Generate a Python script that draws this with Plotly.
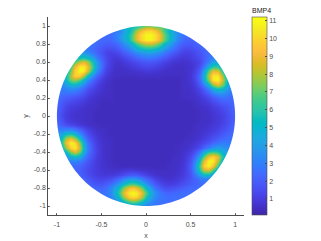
import numpy as np
import plotly.graph_objects as go

x_values = [round(-1 + 0.05 * i, 2) for i in range(41)]
y_values = [round(1 - 0.05 * i, 2) for i in range(41)]
# each row: first column index, then the values read across the disc
bmp4_rows = [
 (18,[5.5,6.5,7.2,7.3,6.8]),
 (13,[2.6,3.1,4,5,6.2,8,9.3,10,10.2,9.5,8.2,6.5,5.2,4.2,3.2]),
 (11,[2.4,2.5,2.9,3.6,4.4,5.6,7,8.8,10.2,10.9,10.9,10.4,9.1,7.3,5.7,4.6,3.4,2.8,2.4]),
 (9,[2.5,2.4,2.3,2.4,2.7,3.4,4.3,5.5,7,8.8,10.1,10.8,10.8,10.3,9,7.2,5.6,4.4,3.2,2.6,2.2,2.2,2.3]),
 (7,[2.7,2.6,2.4,2.2,2,2,2.2,2.7,3.4,4.2,5.2,6.5,7.6,8.2,8.3,7.8,6.8,5.4,4.3,3.4,2.6,2.1,1.9,1.9,2.1,2.3,2.5]),
 (6,[3,2.8,2.4,2.1,1.8,1.5,1.5,1.7,2,2.6,3.2,3.9,4.7,5.3,5.7,5.7,5.4,4.8,4,3.2,2.6,2,1.6,1.4,1.5,1.7,2,2.3,2.5]),
 (5,[4,3.8,3.4,2.8,2.2,1.7,1.3,1.1,1.2,1.5,1.9,2.3,2.8,3.3,3.7,3.9,3.9,3.7,3.3,2.8,2.3,1.9,1.5,1.2,1.1,1.2,1.4,1.7,2.1,2.4,2.6]),
 (4,[5,5.5,5.8,5.2,4,2.9,2,1.4,1,.85,1,1.3,1.6,1.9,2.2,2.5,2.7,2.7,2.5,2.2,1.9,1.5,1.2,1,.85,.85,1,1.2,1.5,2,2.7,3.1,3.1]),
 (3,[5,6.8,8.2,8.8,7.8,5.6,3.8,2.4,1.5,1,.75,.7,.9,1.1,1.3,1.5,1.7,1.8,1.8,1.7,1.5,1.2,1,.8,.7,.65,.7,.8,1,1.3,2,3,4.2,4.4,3.6]),
 (2,[4.5,6.5,9,10.7,10.7,9,6.3,4,2.4,1.4,.9,.65,.6,.65,.8,.95,1.05,1.2,1.3,1.3,1.2,1,.85,.7,.6,.55,.55,.6,.7,1,1.5,2.7,4.8,6.2,6.2,4.8,3.5]),
 (2,[4.8,7.2,9.8,11,10.8,8.5,5.5,3.4,2,1.2,.8,.6,.55,.55,.6,.7,.75,.8,.9,.9,.8,.7,.6,.55,.55,.55,.55,.6,.75,1.1,2,4,7,8.8,8.6,6.3,4.2]),
 (1,[3.4,5.3,8,9.9,9.7,7.8,5.3,3.4,2.2,1.4,.9,.65,.55,.5,.5,.5,.5,.5,.55,.55,.55,.55,.55,.5,.5,.5,.5,.5,.6,.8,1.3,2.4,4.8,8.2,10.5,10.6,8.2,5.2,3.5]),
 (1,[3.5,5.2,7.3,7.8,6.8,5,3.4,2.3,1.6,1,.7,.55]+[.4]*15+[.5,.6,.8,1.2,2.3,4.5,7.6,10.5,11,8.8,5.6,3.6]),
 (0,[3,3.3,4,4.9,5,4.2,3.2,2.3,1.6,1.1,.8,.6,.5]+[.4]*15+[.5,.55,.7,1,1.8,3,5,7.5,8.8,7.5,5.2,3.5,2.8]),
 (0,[2.9,3,3.2,3.4,3.3,2.8,2.2,1.6,1.2,.9,.7,.55,.5]+[.4]*15+[.5,.55,.65,.85,1.3,2,3.1,4.5,5.6,5.2,4.1,3.1,2.7]),
 (0,[2.7,2.6,2.5,2.4,2.3,2,1.6,1.2,.9,.7,.6,.5,.5]+[.4]*15+[.5,.5,.6,.7,1,1.4,2,2.8,3.4,3.5,3.1,2.7,2.5]),
 (0,[2.5,2.2,2,1.8,1.6,1.4,1.2,.9,.7,.6,.5,.5,.5]+[.4]*15+[.5,.5,.55,.6,.8,1,1.4,1.8,2.2,2.5,2.5,2.4,2.4]),
 (0,[2.3,1.9,1.5,1.3,1.2,1,.85,.7,.6,.55]+[.4]*21+[.55,.65,.8,1,1.3,1.6,1.9,2,2.2,2.4]),
 (0,[2.2,1.7,1.3,1,.9,.8,.7,.6,.55,.5]+[.4]*21+[.5,.55,.65,.75,1,1.2,1.4,1.7,2,2.3]),
 (0,[2.1,1.5,1.1,.85,.75,.7,.6,.55,.5]+[.4]*23+[.5,.55,.65,.8,1,1.2,1.5,1.9,2.3]),
 (0,[2.1,1.4,1,.8,.7,.65,.6,.55,.5]+[.4]*23+[.5,.55,.6,.75,.9,1.1,1.4,1.8,2.2]),
 (0,[2.2,1.6,1.1,.9,.8,.7,.6,.55,.5]+[.4]*23+[.5,.55,.6,.75,.9,1.1,1.4,1.8,2.2]),
 (0,[2.4,2,1.6,1.3,1.1,.9,.75,.6,.55,.5]+[.4]*21+[.5,.55,.6,.7,.85,1,1.2,1.5,1.9,2.3]),
 (0,[3,3,3.2,3.3,2.9,2.2,1.6,1.1,.8,.6,.55,.5]+[.4]*19+[.5,.6,.7,.8,1,1.2,1.5,1.8,2.1,2.4]),
 (0,[4,4.2,5.3,5.8,4.9,3.4,2.3,1.5,1,.75,.6,.5]+[.4]*18+[.5,.55,.65,.8,1,1.25,1.5,1.8,2.1,2.4,2.5]),
 (0,[4.5,5.5,8,9.2,8,5.5,3.4,2,1.3,.9,.65,.55,.5]+[.4]*16+[.5,.55,.65,.8,1,1.3,1.6,2,2.3,2.5,2.6,2.6]),
 (0,[4.5,6,9,10.8,10.3,7.5,4.5,2.6,1.5,1,.7,.55,.5]+[.4]*15+[.5,.55,.65,.8,1.05,1.4,1.8,2.3,2.7,2.9,2.9,2.8,2.7]),
 (0,[4,5,7.5,10,10.7,8.3,5,2.9,1.7,1.1,.75,.55,.5]+[.4]*14+[.5,.55,.6,.8,1.05,1.5,2.2,3,3.6,4,3.9,3.5,3,2.8]),
 (1,[3.8,5.2,7.5,8.7,7.2,4.6,2.7,1.7,1.1,.75,.55,.5]+[.4]*14+[.5,.6,.75,1.05,1.6,2.8,4.5,6,6.5,6,5,4,3.2]),
 (1,[3,3.6,4.8,5.2,4.6,3.2,2.2,1.5,1,.75,.6,.5]+[.4]*13+[.5,.55,.65,.9,1.4,2.4,4.2,7,9.3,10,8.8,6.2,4.3,3.2]),
 (2,[2.8,3.1,3.1,2.9,2.4,1.8,1.3,.95,.75,.6,.5]+[.4]*13+[.5,.55,.7,1,1.7,3,5.5,8.8,10.9,10.8,8.2,5.4,3.7]),
 (2,[2.6,2.5,2.4,2.2,1.9,1.5,1.2,.9,.75,.6,.55,.5]+[.4]*11+[.5,.55,.6,.75,1.1,1.9,3.6,6.6,9.8,10.8,9.5,6.5,4.2,3.2]),
 (3,[2.5,2.3,2,1.7,1.4,1.15,.95,.8,.7,.65,.65,.65,.75,.85,.85,.75,.65,.6,.55,.5,.5,.5,.5,.55,.65,.8,1.15,1.9,3.4,6,8.4,8.8,6.9,4.6,3.2]),
 (4,[2.4,2.1,1.8,1.5,1.2,1,.9,.85,.9,1,1.2,1.5,1.8,1.9,1.8,1.5,1.2,.9,.7,.6,.55,.55,.6,.7,.9,1.2,1.7,2.7,4,5.2,5.2,4,3]),
 (5,[2.4,2.1,1.8,1.5,1.3,1.2,1.3,1.5,1.9,2.5,3.2,3.8,4,3.7,3,2.3,1.7,1.2,.9,.75,.7,.75,.9,1.1,1.4,1.8,2.2,2.7,3,3,2.6]),
 (6,[2.5,2.2,1.9,1.7,1.7,2,2.4,3.1,4,5.2,6.2,6.5,6,5,3.7,2.7,1.9,1.4,1.1,1,1.05,1.2,1.5,1.7,2,2.2,2.4,2.5,2.5]),
 (7,[2.6,2.3,2.2,2.2,2.5,3.2,4.2,5.6,7.5,9,9.5,8.8,7.2,5.3,3.8,2.7,2,1.6,1.5,1.6,1.8,2,2.2,2.4,2.4,2.5,2.5]),
 (9,[2.6,2.5,2.7,3.3,4.6,6.6,8.9,10.5,11,10.6,8.9,6.8,4.8,3.5,2.8,2.4,2.2,2.3,2.4,2.5,2.5,2.5,2.5]),
 (11,[2.7,3.1,4.1,5.7,7.9,9.7,10.4,10,8.2,6,4.3,3.3,2.8,2.6,2.5,2.5,2.5,2.5,2.5]),
 (13,[3.1,4,5.2,6.4,7,6.6,5.5,4.3,3.4,2.9,2.6,2.5,2.5,2.5,2.5]),
 (18,[4.2,3.6,3.1,2.8,2.6]),
]
x_ticks = [-1, -0.5, 0, 0.5, 1]
x_tick_labels = ["-1", "-0.5", "0", "0.5", "1"]
y_ticks = [-1, -0.8, -0.6, -0.4, -0.2, 0, 0.2, 0.4, 0.6, 0.8, 1]
y_tick_labels = ["-1", "-0.8", "-0.6", "-0.4", "-0.2", "0", "0.2", "0.4", "0.6", "0.8", "1"]
bar_ticks = list(range(1, 12))

# pad every row out to the full grid with its own edge reading
bmp4_values = []
for first, vals in bmp4_rows:
    n_right = max(0, 41 - first - len(vals))
    bmp4_values.append(([vals[0]] * first + vals + [vals[-1]] * n_right)[:41])

parula = [
 (.2422,.1504,.6603),(.2578,.1818,.7511),(.2706,.2147,.8364),(.2783,.2559,.8991),(.2813,.3006,.9414),
 (.2795,.3447,.9717),(.2699,.3892,.9906),(.2440,.4358,.9988),(.1963,.4847,.9892),(.1786,.5289,.9682),
 (.1687,.5703,.9359),(.1460,.6091,.9079),(.1248,.6459,.8883),(.0952,.6798,.8598),(.0297,.7082,.8163),
 (.0067,.7292,.7660),(.0964,.7500,.7120),(.1717,.7670,.6554),(.2161,.7843,.5923),(.2906,.7973,.5188),
 (.3909,.8029,.4354),(.5044,.7993,.3480),(.6174,.7876,.2612),(.7242,.7698,.1910),(.8203,.7498,.1535),
 (.9035,.7330,.1774),(.9728,.7298,.2394),(.9970,.7659,.2199),(.9892,.8136,.1885),(.9676,.8639,.1643),
 (.9597,.9135,.1423),(.9691,.9606,.1064),(.9769,.9839,.0805),
]
colorscale = [[i / (len(parula) - 1), "rgb(%d,%d,%d)" % tuple(round(c * 255) for c in p)]
              for i, p in enumerate(parula)]

GREY = "#4d4d4d"
FONT = "Liberation Sans, Arial"
fig = go.Figure(go.Heatmap(
    x=x_values, y=y_values, z=bmp4_values, zsmooth="best", zmin=0.1, zmax=11.2,
    colorscale=colorscale, hoverinfo="skip",
    colorbar=dict(
        thickness=15, thicknessmode="pixels", len=210, lenmode="pixels",
        x=1.043, xanchor="left", xpad=0, y=0, yanchor="bottom", ypad=0,
        tickvals=bar_ticks, ticks="inside", ticklen=2, tickcolor=GREY, tickwidth=0.6,
        tickfont=dict(family=FONT, size=7, color=GREY),
        outlinecolor=GREY, outlinewidth=0.6,
        title=dict(text="BMP4", side="top", font=dict(family=FONT, size=7, color="#222222")),
    ),
))

# white mask that trims the square image to the unit disc
t = np.linspace(0, 2 * np.pi, 181)
ring = "M" + " L".join(f"{np.cos(a):.4f},{np.sin(a):.4f}" for a in t) + " Z"
outer = "M-1.08,-1.08 L1.08,-1.08 L1.08,1.08 L-1.08,1.08 Z"
fig.add_shape(type="path", path=outer + " " + ring, fillcolor="white", fillrule="evenodd",
              line=dict(width=0), layer="above", xref="x", yref="y")

axis_style = dict(
    range=[-1.1, 1.1], showgrid=False, zeroline=False, ticks="inside", ticklen=2, tickwidth=0.6,
    tickcolor=GREY, showline=True, linecolor=GREY, linewidth=0.6,
    tickfont=dict(family=FONT, size=7, color=GREY),
)
fig.update_xaxes(tickvals=x_ticks, ticktext=x_tick_labels, ticklabelstandoff=3,
                 title=dict(text="x", standoff=5, font=dict(family=FONT, size=7, color=GREY)),
                 **axis_style)
fig.update_yaxes(tickvals=y_ticks, ticktext=y_tick_labels,
                 title=dict(text="y", standoff=4, font=dict(family=FONT, size=7, color=GREY)),
                 **axis_style)
fig.update_layout(
    width=313, height=233, margin=dict(l=39.5, r=77.4, t=9, b=26, autoexpand=False),
    paper_bgcolor="white", plot_bgcolor="white", showlegend=False,
)
# grayscale text smoothing, as in the reference
fig.write_html("out.html", post_script="document.querySelectorAll('.main-svg').forEach(function(s){s.style.opacity='0.999';});")
